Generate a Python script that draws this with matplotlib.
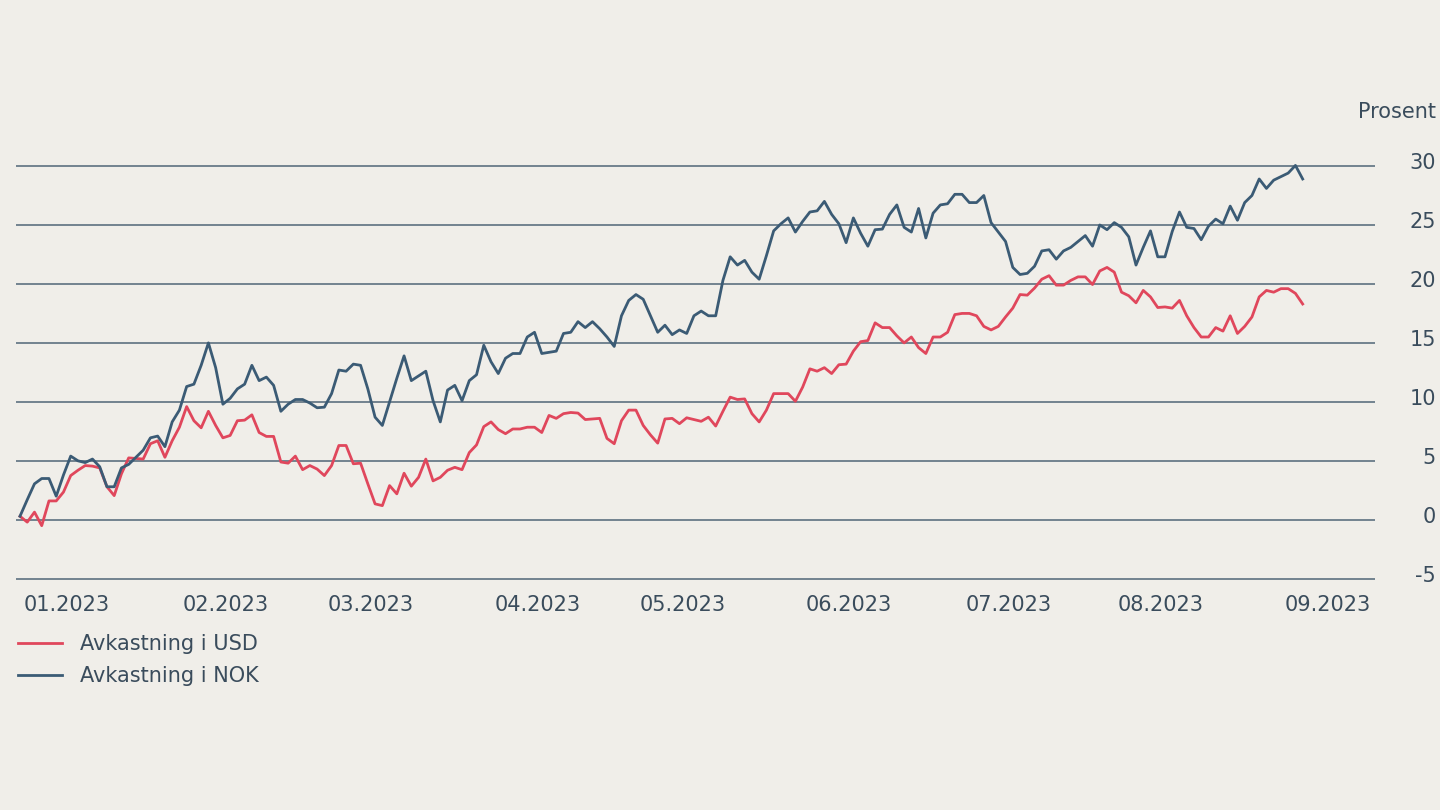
import numpy as np
import pandas as pd
import matplotlib
matplotlib.use("Agg")
import matplotlib.pyplot as plt
from matplotlib.transforms import ScaledTranslation

# trading days, 30.12.2022 - 05.09.2023
dates = pd.bdate_range("2022-12-30", "2023-09-05")

# return in USD (percent)
usd = [0.3, -0.2, 0.65, -0.5, 1.6, 1.6, 2.35, 3.75, 4.2, 4.6,
       4.55, 4.4, 2.8, 2.05, 3.9, 5.25, 5.2, 5.15, 6.45, 6.7,
       5.3, 6.7, 7.85, 9.6, 8.4, 7.8, 9.2, 8.0, 6.95, 7.15,
       8.4, 8.45, 8.9, 7.4, 7.07, 7.07, 4.9, 4.8, 5.4, 4.25,
       4.6, 4.3, 3.75, 4.6, 6.3, 6.3, 4.75, 4.8, 3.05, 1.35,
       1.2, 2.9, 2.2, 3.95, 2.85, 3.6, 5.15, 3.3, 3.6, 4.2,
       4.45, 4.25, 5.7, 6.35, 7.9, 8.3, 7.65, 7.3, 7.7, 7.7,
       7.85, 7.85, 7.4, 8.85, 8.6, 9.0, 9.1, 9.05, 8.5, 8.55,
       8.6, 6.9, 6.45, 8.4, 9.3, 9.3, 8.0, 7.2, 6.5, 8.55,
       8.6, 8.15, 8.65, 8.5, 8.35, 8.7, 7.95, 9.2, 10.4, 10.2,
       10.25, 9.0, 8.3, 9.3, 10.7, 10.7, 10.7, 10.05, 11.25, 12.8,
       12.6, 12.9, 12.4, 13.15, 13.2, 14.3, 15.1, 15.2, 16.7, 16.3,
       16.3, 15.6, 15.0, 15.5, 14.6, 14.1, 15.5, 15.5, 15.9, 17.4,
       17.5, 17.5, 17.3, 16.4, 16.1, 16.4, 17.2, 17.95, 19.1, 19.05,
       19.65, 20.4, 20.7, 19.9, 19.9, 20.3, 20.6, 20.6, 19.95, 21.1,
       21.4, 21.0, 19.3, 19.0, 18.4, 19.45, 18.9, 18.0, 18.05, 17.95,
       18.6, 17.3, 16.3, 15.5, 15.5, 16.3, 16.0, 17.3, 15.8, 16.4,
       17.2, 18.9, 19.45, 19.3, 19.6, 19.6, 19.2, 18.3]

# return in NOK (percent)
nok = [0.3, 1.7, 3.05, 3.5, 3.5, 2.0, 3.8, 5.4, 5.0, 4.85,
       5.15, 4.5, 2.8, 2.8, 4.4, 4.7, 5.3, 5.9, 6.95, 7.1,
       6.2, 8.3, 9.3, 11.3, 11.5, 13.1, 15.0, 12.9, 9.8, 10.3,
       11.1, 11.5, 13.1, 11.8, 12.1, 11.4, 9.2, 9.8, 10.2, 10.2,
       9.9, 9.5, 9.55, 10.7, 12.7, 12.6, 13.2, 13.1, 11.1, 8.7,
       8.0, 10.0, 12.0, 13.9, 11.8, 12.2, 12.6, 10.1, 8.3, 11.0,
       11.4, 10.1, 11.8, 12.3, 14.8, 13.4, 12.4, 13.7, 14.1, 14.1,
       15.5, 15.9, 14.1, 14.2, 14.3, 15.8, 15.9, 16.8, 16.3, 16.8,
       16.2, 15.5, 14.7, 17.3, 18.6, 19.1, 18.7, 17.3, 15.9, 16.5,
       15.7, 16.1, 15.8, 17.3, 17.7, 17.3, 17.3, 20.3, 22.3, 21.6,
       22.0, 21.0, 20.4, 22.4, 24.5, 25.1, 25.6, 24.4, 25.3, 26.1,
       26.2, 27.0, 25.9, 25.1, 23.5, 25.6, 24.3, 23.2, 24.6, 24.65,
       25.9, 26.7, 24.8, 24.4, 26.4, 23.9, 26.0, 26.7, 26.8, 27.6,
       27.6, 26.9, 26.9, 27.5, 25.2, 24.4, 23.6, 21.4, 20.8, 20.9,
       21.5, 22.8, 22.9, 22.1, 22.8, 23.1, 23.6, 24.1, 23.2, 25.0,
       24.6, 25.2, 24.8, 24.0, 21.6, 23.1, 24.5, 22.3, 22.3, 24.45,
       26.1, 24.8, 24.7, 23.75, 24.9, 25.5, 25.1, 26.6, 25.4, 26.9,
       27.5, 28.9, 28.1, 28.8, 29.1, 29.4, 30.05, 28.9]

yticks = [-5, 0, 5, 10, 15, 20, 25, 30]

bg = "#f0eee9"
red = "#e0475c"
blue = "#3b5b75"
grid_col = "#5d7080"
txt = "#3a4c5c"

plt.rcParams["font.family"] = ["DejaVu Sans"]
plt.rcParams["axes.unicode_minus"] = False

x = np.arange(len(dates))
# first trading day of each month (skip december)
months = dates.to_period("M")
first = [i for i in range(1, len(dates)) if months[i] != months[i - 1]]
tick_labels = [dates[i].strftime("%m.%Y") for i in first]

fig = plt.figure(figsize=(14.4, 8.1), dpi=100, facecolor=bg)
ax = fig.add_axes([16 / 1440, 1 - 585 / 810, (1375 - 16) / 1440, (585 - 160) / 810])
ax.set_facecolor(bg)

ax.plot(x, usd, color=red, lw=2.0, label="Avkastning i USD", zorder=3)
ax.plot(x, nok, color=blue, lw=2.0, label="Avkastning i NOK", zorder=3)

ax.set_xlim(-0.55, 186.98)
ax.set_ylim(-5.53, 30.51)
ax.set_yticks(yticks)
ax.yaxis.tick_right()
ax.grid(axis="y", color=grid_col, lw=1.2)
ax.set_axisbelow(True)
for s in ax.spines.values():
    s.set_visible(False)

ax.tick_params(length=0, labelsize=15, labelcolor=txt)
ax.tick_params(axis="y", pad=44)
ax.tick_params(axis="x", pad=7)
up = ScaledTranslation(0, 5 / 100, fig.dpi_scale_trans)
for lab in ax.get_yticklabels():
    lab.set_ha("right")
    lab.set_transform(lab.get_transform() + up)

ax.set_xticks(first)
ax.set_xticklabels(tick_labels, ha="left")
left = ScaledTranslation(-4 / 100, 0, fig.dpi_scale_trans)
for lab in ax.get_xticklabels():
    lab.set_transform(lab.get_transform() + left)

fig.text(1436 / 1440, 1 - 112 / 810, "Prosent", ha="right", va="center",
         fontsize=15, color=txt)

leg = fig.legend(loc="upper left", bbox_to_anchor=(18 / 1440, 1 - 634 / 810),
                 frameon=False, fontsize=15, handlelength=2.1, handletextpad=0.9,
                 labelspacing=0.6, borderpad=0, borderaxespad=0)
for t in leg.get_texts():
    t.set_color(txt)

fig.savefig("out.png", dpi=100, facecolor=bg)
